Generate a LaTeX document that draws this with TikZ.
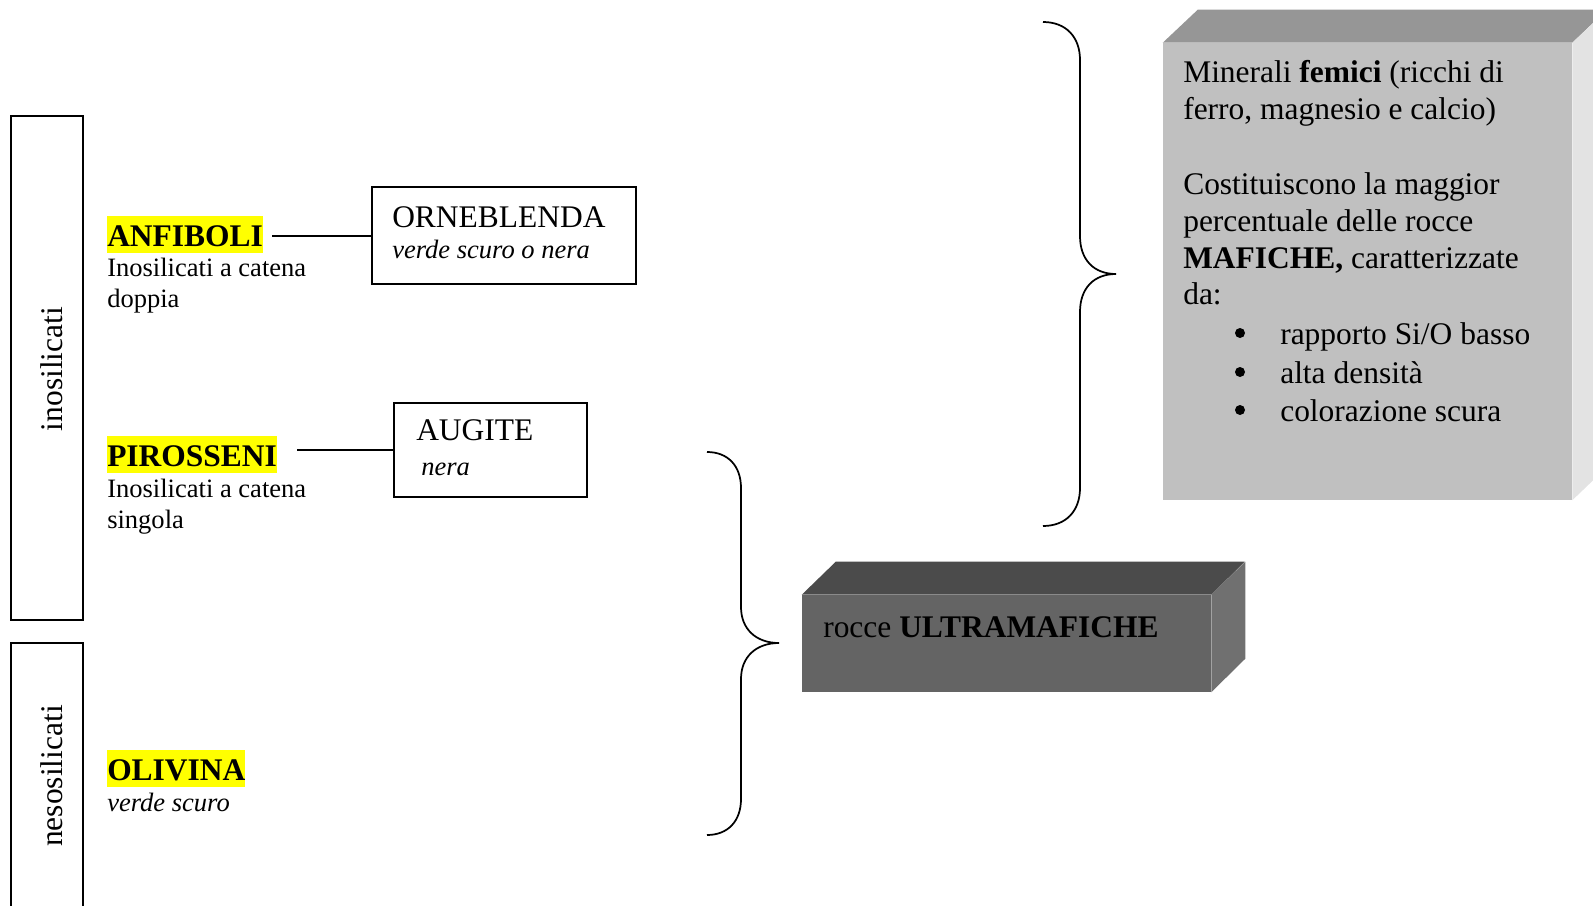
\documentclass[tikz,border=0pt]{standalone}
\usepackage{fontspec}
\setmainfont{Liberation Serif}
\definecolor{hlyellow}{HTML}{FFFF00}
\definecolor{femfront}{HTML}{C0C0C0}
\definecolor{femtop}{HTML}{969696}
\definecolor{femside}{HTML}{E3E3E3}
\definecolor{ulfront}{HTML}{646464}
\definecolor{ultop}{HTML}{4B4B4B}
\definecolor{ulside}{HTML}{707070}
\tikzset{
  maintext/.style={font=\fontsize{23.6pt}{27.75pt}\selectfont, inner sep=0pt},
  smalltext/.style={font=\fontsize{19.9pt}{23pt}\selectfont, inner sep=0pt},
  hilite/.style={fill=hlyellow, inner sep=0pt, text height=22.5pt, text depth=5.25pt,
                 font=\fontsize{23.6pt}{27.75pt}\selectfont\bfseries},
  framebox/.style={draw, line width=1.5pt, inner sep=0pt},
  bracepath/.style={line width=1.3pt},
  link/.style={line width=1.5pt},
  bulletdot/.style={circle, fill=black, inner sep=0pt, minimum size=7.5pt},
}
\begin{document}
\begin{tikzpicture}[x=0.75pt,y=-0.75pt]
\useasboundingbox (0,0) rectangle (1593,906);

% left group frames
\node[framebox, minimum width=54pt, minimum height=378pt] (ino) at (47,368) {};
\node[maintext, rotate=90, anchor=base] (inolab) at (62,369) {inosilicati};
\draw[line width=1.5pt] (11,920) -- (11,643) -- (83,643) -- (83,920);
\node[maintext, rotate=90, anchor=base] (nesolab) at (62,776) {nesosilicati};

% ANFIBOLI
\node[hilite, anchor=base west] (anf) at (107,246) {ANFIBOLI};
\node[smalltext, anchor=base west] (anf1) at (107,276) {Inosilicati a catena};
\node[smalltext, anchor=base west] (anf2) at (107,307) {doppia};
\node[framebox, minimum width=198pt, minimum height=72.75pt] (orne) at (504,235.5) {};
\node[maintext, anchor=base west] (orne1) at (392,227) {ORNEBLENDA};
\node[smalltext, anchor=base west] (orne2) at (392,258) {\itshape verde scuro o nera};
\coordinate (anfout) at ([xshift=7pt]anf.east);
\draw[link] (anfout |- orne.west) -- (orne.west);

% PIROSSENI
\node[hilite, anchor=base west] (pir) at (107,466) {PIROSSENI};
\node[smalltext, anchor=base west] (pir1) at (107,497) {Inosilicati a catena};
\node[smalltext, anchor=base west] (pir2) at (107,528) {singola};
\node[framebox, minimum width=144.75pt, minimum height=70.5pt] (aug) at (490.5,450) {};
\node[maintext, anchor=base west] (aug1) at (416,440) {AUGITE};
\node[smalltext, anchor=base west] (aug2) at (421,475) {\itshape nera};
\coordinate (pirout) at ([xshift=15pt]pir.east);
\draw[link] (pirout |- aug.west) -- (aug.west);

% OLIVINA
\node[hilite, anchor=base west] (oli) at (107,780) {OLIVINA};
\node[smalltext, anchor=base west] (oli1) at (107,811) {\itshape verde scuro};

% braces
\draw[bracepath] (1043,22) .. controls (1066,22) and (1080,37) .. (1080,60)
  -- (1080,236) .. controls (1080,260) and (1094,274) .. (1116,274)
  .. controls (1094,274) and (1080,288) .. (1080,312)
  -- (1080,488) .. controls (1080,511) and (1066,526) .. (1043,526);
\draw[bracepath] (707,452) .. controls (728,452) and (741,466) .. (741,488)
  -- (741,607) .. controls (741,629) and (756,643) .. (779,643)
  .. controls (756,643) and (741,657) .. (741,679)
  -- (741,799) .. controls (741,821) and (728,835) .. (707,835);

% femici 3D box
\node[fill=femfront, inner sep=0pt, minimum width=306.75pt, minimum height=342.75pt] (fem) at (1367.5,271.5) {};
\fill[femtop] (fem.north west) -- ++(35,-33) -- ++(409,0) -- (fem.north east) -- cycle;
\fill[femside] (fem.north east) -- ++(35,-33) -- ++(0,457) -- (fem.south east) -- cycle;
\node[maintext, anchor=base west] (f1) at (1183,83) {Minerali \textbf{femici} (ricchi di};
\node[maintext, anchor=base west] (f2) at (1183,120) {ferro, magnesio e calcio)};
\node[maintext, anchor=base west] (f3) at (1183,194) {Costituiscono la maggior};
\node[maintext, anchor=base west] (f4) at (1183,231) {percentuale delle rocce};
\node[maintext, anchor=base west] (f5) at (1183,268) {\textbf{MAFICHE,} caratterizzate};
\node[maintext, anchor=base west] (f6) at (1183,304) {da:};
\node[bulletdot] (b1) at (1240,333) {};
\node[bulletdot] (b2) at (1240,372) {};
\node[bulletdot] (b3) at (1240,410) {};
\node[maintext, anchor=base west] (g1) at (1280,344) {rapporto Si/O basso};
\node[maintext, anchor=base west] (g2) at (1280,383) {alta densità};
\node[maintext, anchor=base west] (g3) at (1280,421) {colorazione scura};

% ultramafiche 3D box
\node[fill=ulfront, inner sep=0pt, minimum width=306.75pt, minimum height=72.75pt] (ult) at (1006.5,643.5) {};
\fill[ultop] (ult.north west) -- ++(34,-33) -- ++(409,0) -- (ult.north east) -- cycle;
\fill[ulside] (ult.north east) -- ++(34,-33) -- ++(0,97) -- (ult.south east) -- cycle;
\node[maintext, anchor=base west] (ult1) at (823,637) {rocce \textbf{ULTRAMAFICHE}};
\end{tikzpicture}
\end{document}
